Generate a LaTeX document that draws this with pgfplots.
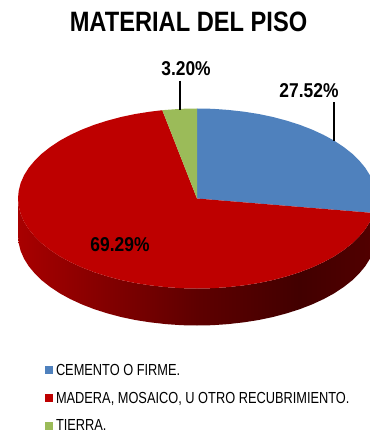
\documentclass[border=0pt]{standalone}
\usepackage{fontspec}
\usepackage{pgfplots}
\pgfplotsset{compat=1.18}
\setmainfont{Liberation Sans}
\newfontfamily\narrow[FakeStretch=0.80]{Liberation Sans}
\newfontfamily\narrowb[FakeStretch=0.87]{Liberation Sans Bold}
\newfontfamily\titlef[FakeStretch=0.845]{Liberation Sans Bold}
\definecolor{cblue}{HTML}{4F81BD}
\definecolor{cred}{HTML}{BE0000}
\definecolor{cgreen}{HTML}{9BBB59}
\definecolor{sa}{HTML}{A80000}
\definecolor{sb}{HTML}{880000}
\definecolor{sc}{HTML}{5E0000}
\definecolor{sd}{HTML}{420000}
\definecolor{se}{HTML}{520000}
\pgfdeclarehorizontalshading{sidegrad}{100bp}{color(0bp)=(sa); color(25bp)=(sa); color(35.6bp)=(sb); color(50bp)=(sc); color(64.3bp)=(sd); color(75bp)=(se); color(100bp)=(se)}
\begin{document}
\begin{tikzpicture}
\useasboundingbox (0,0) rectangle (370bp,433bp);
\begin{axis}[
  at={(0,0)},anchor=south west,
  width=370bp,height=433bp,scale only axis,
  xmin=0,xmax=370,ymin=0,ymax=433,y dir=reverse,
  hide axis,
  legend image code/.code={\fill[#1] (0bp,-4bp) rectangle (8bp,4bp);},
  legend cell align=left,
  legend style={at={(axis cs:45,364)},anchor=north west,draw=none,fill=none,inner sep=0pt,outer sep=0pt,
    row sep=15.3bp,font=\narrow\fontsize{16bp}{15bp}\selectfont,
    nodes={inner sep=0pt,outer sep=0pt},column sep=3bp},
]
% side wall
\addplot[forget plot,draw=none,shade,shading=sidegrad] coordinates {
(18,198.5)(18.7,206.3)(20.7,214.1)(24.1,221.8)(28.8,229.3)(34.8,236.5)(42,243.5)(50.4,250.1)(59.9,256.4)(70.4,262.1)(81.9,267.4)(94.3,272.2)(107.5,276.4)(121.4,280.1)(135.8,283.1)(150.7,285.4)(165.9,287.1)(181.4,288.2)(197,288.5)
(212.6,288.2)(228.1,287.1)(243.3,285.4)(258.2,283.1)(272.6,280.1)(286.5,276.4)(299.7,272.2)(312.1,267.4)(323.6,262.1)(334.1,256.4)(343.6,250.1)(352,243.5)(359.2,236.5)(365.2,229.3)(369.9,221.8)(373.3,214.1)(375.3,206.3)(376,198.5)
(376,235.5)(375.3,243.3)(373.3,251.1)(369.9,258.8)(365.2,266.3)(359.2,273.5)(352,280.5)(343.6,287.1)(334.1,293.4)(323.6,299.1)(312.1,304.4)(299.7,309.2)(286.5,313.4)(272.6,317.1)(258.2,320.1)(243.3,322.4)(228.1,324.1)(212.6,325.2)(197,325.5)
(181.4,325.2)(165.9,324.1)(150.7,322.4)(135.8,320.1)(121.4,317.1)(107.5,313.4)(94.3,309.2)(81.9,304.4)(70.4,299.1)(59.9,293.4)(50.4,287.1)(42,280.5)(34.8,273.5)(28.8,266.3)(24.1,258.8)(20.7,251.1)(18.7,243.3)(18,235.5)
} -- cycle;
% CEMENTO O FIRME 27.52
\addplot[draw=none,fill=cblue] coordinates {
(197,198.5)(197,108.5)(212.6,108.8)(228.1,109.9)(243.3,111.6)(258.2,113.9)(272.6,116.9)(286.5,120.6)(299.7,124.8)(312.1,129.6)(323.6,134.9)(334.1,140.6)(343.6,146.9)(352,153.5)(359.2,160.5)(365.2,167.7)(369.9,175.2)(373.3,182.9)(375.3,190.7)(376,198.5)(375.3,206.3)(373.6,213)
} -- cycle;
\addlegendentry{CEMENTO O FIRME.}
% MADERA 69.29
\addplot[draw=none,fill=cred] coordinates {
(197,198.5)(373.6,213)(369.9,221.8)(365.2,229.3)(359.2,236.5)(352,243.5)(343.6,250.1)(334.1,256.4)(323.6,262.1)(312.1,267.4)(299.7,272.2)(286.5,276.4)(272.6,280.1)(258.2,283.1)(243.3,285.4)(228.1,287.1)(212.6,288.2)(197,288.5)
(181.4,288.2)(165.9,287.1)(150.7,285.4)(135.8,283.1)(121.4,280.1)(107.5,276.4)(94.3,272.2)(81.9,267.4)(70.4,262.1)(59.9,256.4)(50.4,250.1)(42,243.5)(34.8,236.5)(28.8,229.3)(24.1,221.8)(20.7,214.1)(18.7,206.3)(18,198.5)
(18.7,190.7)(20.7,182.9)(24.1,175.2)(28.8,167.7)(34.8,160.5)(42,153.5)(50.4,146.9)(59.9,140.6)(70.4,134.9)(81.9,129.6)(94.3,124.8)(107.5,120.6)(121.4,116.9)(135.8,113.9)(150.7,111.6)(162.3,110.2)
} -- cycle;
\addlegendentry{MADERA, MOSAICO, U OTRO RECUBRIMIENTO.}
% TIERRA 3.20
\addplot[draw=none,fill=cgreen] coordinates {
(197,198.5)(162.3,110.2)(165.9,109.9)(181.4,108.8)(197,108.5)
} -- cycle;
\addlegendentry{TIERRA.}
% leader lines
\addplot[forget plot,black,line width=1.2bp] coordinates {(180,80.7)(180,110)};
\addplot[forget plot,black,line width=1.2bp] coordinates {(334,102.3)(334,140.7)};
\node[font=\titlef\fontsize{28bp}{30bp}\selectfont] at (axis cs:188.5,22) {MATERIAL DEL PISO};
\node[font=\narrowb\fontsize{20bp}{24bp}\selectfont] at (axis cs:186,69) {3.20\%};
\node[font=\narrowb\fontsize{20bp}{24bp}\selectfont] at (axis cs:309,91) {27.52\%};
\node[font=\narrowb\fontsize{20bp}{24bp}\selectfont] at (axis cs:120,245) {69.29\%};
\end{axis}
\end{tikzpicture}
\end{document}
